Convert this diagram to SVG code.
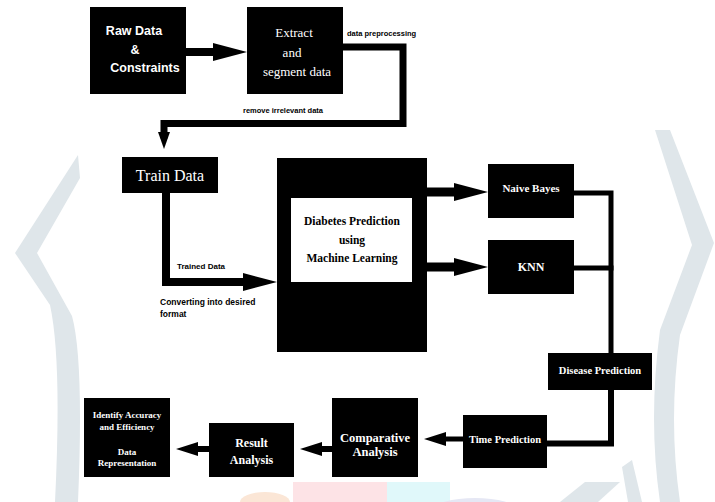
<svg xmlns="http://www.w3.org/2000/svg" width="715" height="502" viewBox="0 0 715 502">
<defs>
<style>
.box{fill:#000}
.wm{fill:#dfe6ea}
.ln{fill:none;stroke:#000;stroke-linejoin:miter;stroke-linecap:square}
.sb{font-family:"Liberation Sans",Arial,sans-serif;font-weight:bold;fill:#fff;text-anchor:middle}
.sr{font-family:"Liberation Serif","Times New Roman",serif;fill:#fff;text-anchor:middle}
.srb{font-family:"Liberation Serif","Times New Roman",serif;font-weight:bold;fill:#fff;text-anchor:middle}
.lbl{font-family:"Liberation Sans",Arial,sans-serif;font-weight:bold;fill:#000}
</style>
<marker id="hBig" markerUnits="userSpaceOnUse" markerWidth="34" markerHeight="18" refX="4" refY="9" orient="auto" viewBox="0 0 34 18"><path d="M0,0 L34,9 L0,18 Z" fill="#000"/></marker>
<marker id="hSmall" markerUnits="userSpaceOnUse" markerWidth="22" markerHeight="14" refX="3" refY="7" orient="auto" viewBox="0 0 22 14"><path d="M0,0 L22,7 L0,14 Z" fill="#000"/></marker>
<marker id="hDown" markerUnits="userSpaceOnUse" markerWidth="17" markerHeight="12" refX="3" refY="6" orient="auto" viewBox="0 0 17 12"><path d="M0,0 L17,6 L0,12 Z" fill="#000"/></marker>
</defs>
<rect width="715" height="502" fill="#fff"/>
<g id="watermark">
<path class="wm" d="M78,155 L15,253 L50,305 Q62,360 55,502 L78,502 Q84,360 72,316 L37,253 L80,178 Z"/>
<path class="wm" d="M655,130 L670,130 L714,243 L680,335 Q668,420 680,502 L660,502 Q648,420 660,330 L692,245 Z"/>
<path class="wm" d="M560,502 L585,482 L620,482 L598,502 Z"/>
<path class="wm" d="M622,467 L632,460 L642,502 L628,502 Z"/>
<ellipse cx="265" cy="502" rx="25" ry="10" fill="#fbe6d6"/>
<rect x="293" y="482" width="94" height="20" fill="#fde3e6"/>
<rect x="387" y="482" width="63" height="20" fill="#e0f8fa"/>
<ellipse cx="475" cy="510" rx="42" ry="12" fill="#e5e7f4"/>
</g>
<g id="connectors">
<path class="ln" stroke-width="8" stroke-linecap="butt" d="M186,52 H217" marker-end="url(#hBig)"/>
<path class="ln" stroke-width="7" d="M343,47 H403 V123.5 H164 V135" stroke-linecap="butt" marker-end="url(#hDown)"/>
<path class="ln" stroke-width="8" stroke-linecap="butt" d="M166,193 V282 H247" marker-end="url(#hBig)"/>
<path class="ln" stroke-width="9" stroke-linecap="butt" d="M427,192 H458" marker-end="url(#hBig)"/>
<path class="ln" stroke-width="9" stroke-linecap="butt" d="M427,267 H458" marker-end="url(#hBig)"/>
<path class="ln" stroke-width="5" stroke-linecap="butt" d="M574,193 H611 V353"/>
<path class="ln" stroke-width="5" stroke-linecap="butt" d="M574,268 H611"/>
<path class="ln" stroke-width="6" stroke-linecap="butt" d="M611,390 V443.5 H547"/>
<path class="ln" stroke-width="5" stroke-linecap="butt" d="M463,439 H443" marker-end="url(#hSmall)"/>
<path class="ln" stroke-width="6" stroke-linecap="butt" d="M332,449 H319" marker-end="url(#hSmall)"/>
<path class="ln" stroke-width="6" stroke-linecap="butt" d="M209,449 H195" marker-end="url(#hSmall)"/>
<text class="lbl" x="347" y="36" font-size="7.5">data preprocessing</text>
<text class="lbl" x="243" y="113" font-size="7.5">remove irrelevant data</text>
<text class="lbl" x="177" y="269" font-size="8">Trained Data</text>
<text class="lbl" x="160" y="305" font-size="8.5">Converting into desired</text>
<text class="lbl" x="160" y="317" font-size="8.5">format</text>
</g>
<g id="raw-data">
<rect class="box" x="90" y="7" width="96" height="87"/>
<text class="sb" font-size="12.5"><tspan x="134" y="35">Raw Data</tspan><tspan x="135" y="54">&amp;</tspan><tspan x="145" y="72">Constraints</tspan></text>
</g>
<g id="extract">
<rect class="box" x="247" y="7" width="96" height="87"/>
<text class="sr" font-size="13"><tspan x="294" y="37">Extract</tspan><tspan x="292" y="57">and</tspan><tspan x="297" y="76">segment data</tspan></text>
</g>
<g id="train-data">
<rect class="box" x="122" y="157" width="96" height="36"/>
<text class="sr" x="170" y="181" font-size="16">Train Data</text>
</g>
<g id="diabetes">
<rect class="box" x="277" y="158" width="150" height="194"/>
<rect x="291" y="198" width="121" height="84" fill="#fff"/>
<text class="srb" font-size="11.5" fill="#000" style="fill:#000"><tspan x="352" y="225">Diabetes Prediction</tspan><tspan x="352" y="244">using</tspan><tspan x="352" y="262">Machine Learning</tspan></text>
</g>
<g id="naive-bayes">
<rect class="box" x="488" y="164" width="86" height="54"/>
<text class="srb" x="531" y="192" font-size="11">Naive Bayes</text>
</g>
<g id="knn">
<rect class="box" x="488" y="240" width="86" height="54"/>
<text class="srb" x="531" y="271" font-size="12">KNN</text>
</g>
<g id="disease-prediction">
<rect class="box" x="548" y="353" width="104" height="37"/>
<text class="srb" x="600" y="374" font-size="10.5">Disease Prediction</text>
</g>
<g id="time-prediction">
<rect class="box" x="463" y="415" width="84" height="53"/>
<text class="srb" x="505" y="443" font-size="10.5">Time Prediction</text>
</g>
<g id="comparative">
<rect class="box" x="332" y="398" width="86" height="79"/>
<text class="srb" font-size="12.5"><tspan x="375" y="442">Comparative</tspan><tspan x="375" y="456">Analysis</tspan></text>
</g>
<g id="result">
<rect class="box" x="209" y="423" width="85" height="54"/>
<text class="srb" font-size="12"><tspan x="251.5" y="447">Result</tspan><tspan x="251.5" y="464">Analysis</tspan></text>
</g>
<g id="identify">
<rect class="box" x="84" y="398" width="86" height="79"/>
<text class="srb" font-size="9"><tspan x="127" y="418">Identify Accuracy</tspan><tspan x="127" y="430">and Efficiency</tspan><tspan x="127" y="455">Data</tspan><tspan x="127" y="466">Representation</tspan></text>
</g>
</svg>
